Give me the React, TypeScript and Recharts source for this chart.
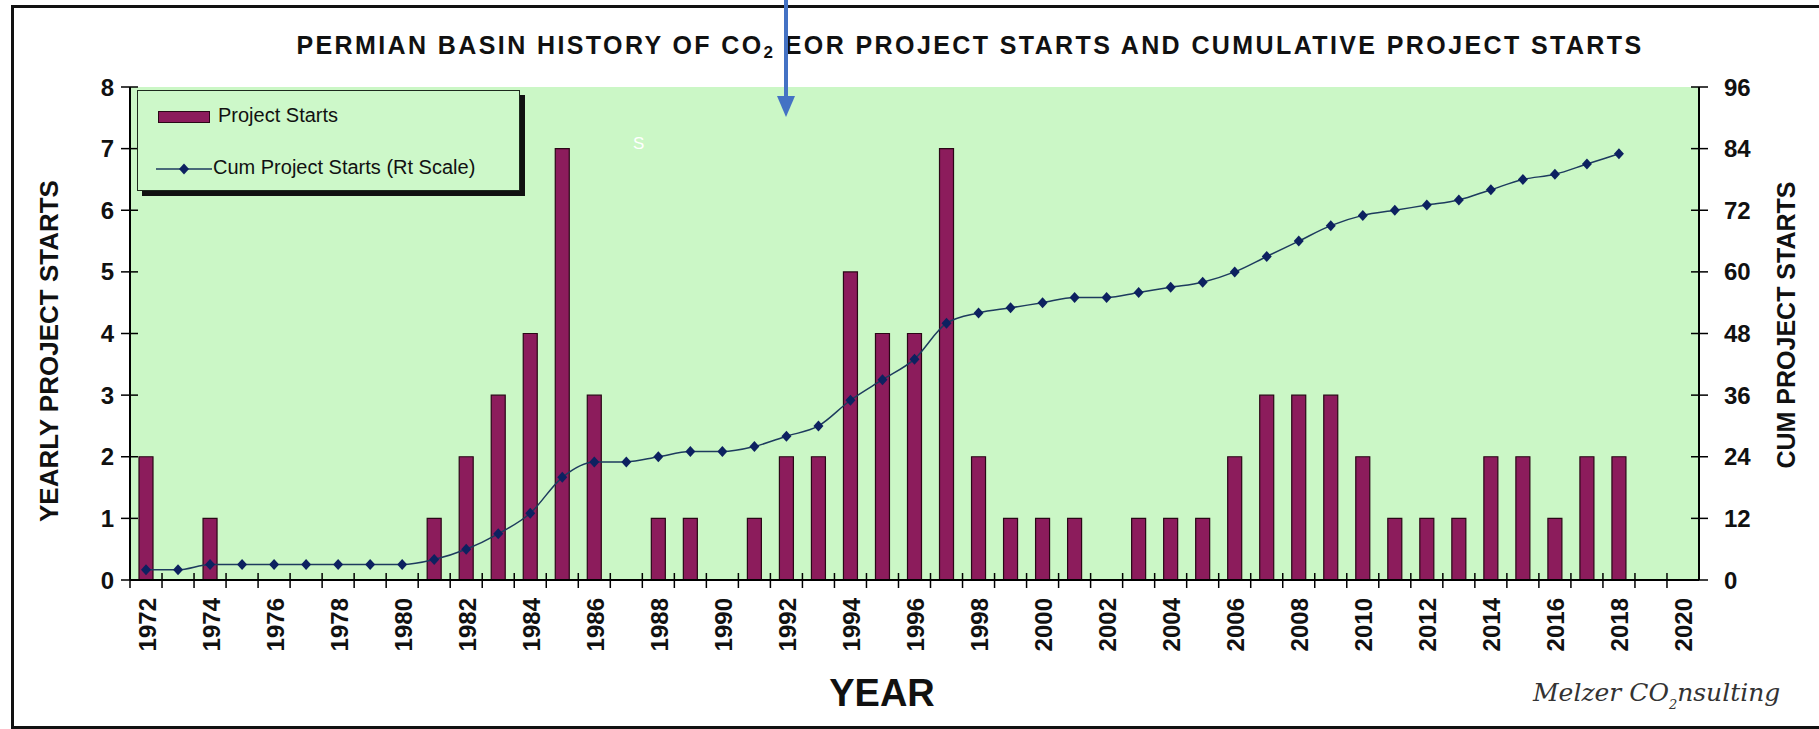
import React from "react";
import { ComposedChart, Bar, Line, XAxis, YAxis, CartesianGrid } from "recharts";

// categories: one per year, 1972..2020
const years = [
  "1972", "1973", "1974", "1975", "1976", "1977", "1978", "1979", "1980",
  "1981", "1982", "1983", "1984", "1985", "1986", "1987", "1988", "1989", "1990",
  "1991", "1992", "1993", "1994", "1995", "1996", "1997", "1998", "1999", "2000",
  "2001", "2002", "2003", "2004", "2005", "2006", "2007", "2008", "2009", "2010",
  "2011", "2012", "2013", "2014", "2015", "2016", "2017", "2018", "2019", "2020",
];

// yearly project starts (left scale)
const projectStarts = [
  2, 0, 1, 0, 0, 0, 0, 0, 0,
  1, 2, 3, 4, 7, 3, 0, 1, 1, 0,
  1, 2, 2, 5, 4, 4, 7, 2, 1, 1,
  1, 0, 1, 1, 1, 2, 3, 3, 3, 2,
  1, 1, 1, 2, 2, 1, 2, 2, 0, 0,
];

// cumulative project starts (right scale)
const cumStarts: (number | null)[] = [
  2, 2, 3, 3, 3, 3, 3, 3, 3,
  4, 6, 9, 13, 20, 23, 23, 24, 25, 25,
  26, 28, 30, 35, 39, 43, 50, 52, 53, 54,
  55, 55, 56, 57, 58, 60, 63, 66, 69, 71,
  72, 73, 74, 76, 78, 79, 81, 83, null, null,
];

const leftTicks = [0, 1, 2, 3, 4, 5, 6, 7, 8];
const rightTicks = [0, 12, 24, 36, 48, 60, 72, 84, 96];

const data = years.map((year, i) => ({
  year,
  starts: projectStarts[i],
  cum: cumStarts[i],
}));

const FONT = "'Liberation Sans', Arial, sans-serif";
const PLOT_BG = "#cbf7c6";
const BAR_FILL = "#8c1c5c";
const LINE_COLOR = "#1d3b5e";
const DOT_COLOR = "#0d2160";

const TICK_SIZE = 8;
const TICK_MARGIN = 6;

const YearTick = (props: any) => {
  const { x, y, payload } = props;
  const half = payload.offset ?? 16;
  const axisY = y - TICK_SIZE - TICK_MARGIN;
  const showLabel = Number(payload.value) % 2 === 0;
  return (
    <g>
      <line x1={x - half} x2={x - half} y1={axisY - 7} y2={axisY + 8} stroke="#000" strokeWidth={1.5} />
      {showLabel && (
        <text
          transform={`translate(${x + 1},${axisY + 18}) rotate(-90)`}
          textAnchor="end"
          dominantBaseline="central"
          fontFamily={FONT}
          fontSize={24}
          fontWeight="bold"
          fill="#111"
        >
          {payload.value}
        </text>
      )}
    </g>
  );
};

const LeftTick = (props: any) => {
  const { x, y, payload } = props;
  const axisX = x + TICK_SIZE + TICK_MARGIN;
  return (
    <g>
      <line x1={axisX - 9} x2={axisX + 8} y1={y} y2={y} stroke="#000" strokeWidth={1.5} />
      <text x={axisX - 16} y={y} textAnchor="end" dominantBaseline="central" fontFamily={FONT} fontSize={24} fontWeight="bold" fill="#111">
        {payload.value}
      </text>
    </g>
  );
};

const RightTick = (props: any) => {
  const { x, y, payload } = props;
  const axisX = x - TICK_SIZE - TICK_MARGIN;
  return (
    <g>
      <line x1={axisX - 8} x2={axisX + 9} y1={y} y2={y} stroke="#000" strokeWidth={1.5} />
      <text x={axisX + 25} y={y} textAnchor="start" dominantBaseline="central" fontFamily={FONT} fontSize={24} fontWeight="bold" fill="#111">
        {payload.value}
      </text>
    </g>
  );
};

const Diamond = (props: any) => {
  const { cx, cy, value } = props;
  if (cx == null || cy == null || value == null) return <g />;
  return <path d={`M${cx},${cy - 5.5}L${cx + 5},${cy}L${cx},${cy + 5.5}L${cx - 5},${cy}Z`} fill={DOT_COLOR} />;
};

export default function App() {
  return (
    <div
      style={{
        position: "absolute",
        left: 0,
        top: 0,
        width: 1819,
        height: 729,
        overflow: "hidden",
        background: "#fff",
        fontFamily: FONT,
      }}
    >
      {/* outer frame */}
      <div
        style={{
          position: "absolute",
          left: 11,
          top: 5,
          width: 1820,
          height: 718,
          border: "3px solid #111",
        }}
      />

      <div style={{ position: "absolute", left: 0, top: 0 }}>
        <ComposedChart
          width={1819}
          height={729}
          data={data}
          margin={{ top: 87, right: 50, bottom: 64, left: 60 }}
          barCategoryGap={0}
        >
          <CartesianGrid yAxisId="left" fill={PLOT_BG} horizontal={false} vertical={false} />
          <XAxis
            dataKey="year"
            interval={0}
            height={85}
            tickLine={false}
            tickSize={TICK_SIZE}
            tickMargin={TICK_MARGIN}
            axisLine={{ stroke: "#000", strokeWidth: 2 }}
            tick={<YearTick />}
          />
          <XAxis
            xAxisId="top"
            dataKey="year"
            orientation="top"
            height={0}
            tick={false}
            tickLine={false}
            axisLine={{ stroke: "#708070", strokeWidth: 1.5 }}
          />
          <YAxis
            yAxisId="left"
            domain={[0, 8]}
            ticks={leftTicks}
            width={70}
            tickLine={false}
            tickSize={TICK_SIZE}
            tickMargin={TICK_MARGIN}
            axisLine={{ stroke: "#000", strokeWidth: 2 }}
            tick={<LeftTick />}
          />
          <YAxis
            yAxisId="right"
            orientation="right"
            domain={[0, 96]}
            ticks={rightTicks}
            width={70}
            tickLine={false}
            tickSize={TICK_SIZE}
            tickMargin={TICK_MARGIN}
            axisLine={{ stroke: "#000", strokeWidth: 2 }}
            tick={<RightTick />}
          />
          <Bar
            yAxisId="left"
            dataKey="starts"
            barSize={14}
            fill={BAR_FILL}
            stroke="#2a0716"
            strokeWidth={1.2}
            isAnimationActive={false}
          />
          <Line
            yAxisId="right"
            dataKey="cum"
            type="monotone"
            stroke={LINE_COLOR}
            strokeWidth={1.5}
            dot={<Diamond />}
            activeDot={false}
            isAnimationActive={false}
          />
        </ComposedChart>
      </div>

      {/* title */}
      <div
        style={{
          position: "absolute",
          left: 270,
          width: 1400,
          top: 31,
          textAlign: "center",
          fontSize: 25,
          fontWeight: "bold",
          letterSpacing: 2.4,
          color: "#111",
          whiteSpace: "nowrap",
        }}
      >
        PERMIAN BASIN HISTORY OF CO<span style={{ fontSize: 17, verticalAlign: -4 }}>2</span> EOR PROJECT STARTS AND CUMULATIVE PROJECT STARTS
      </div>

      {/* annotation arrow */}
      <svg style={{ position: "absolute", left: 770, top: 0 }} width={32} height={120}>
        <line x1={16} x2={16} y1={0} y2={100} stroke="#4472c4" strokeWidth={4} />
        <path d="M7,96 L25,96 L16,117 Z" fill="#4472c4" />
      </svg>
      <div style={{ position: "absolute", left: 633, top: 134, fontSize: 17, color: "#fff" }}>S</div>

      {/* legend */}
      <div
        style={{
          position: "absolute",
          left: 137,
          top: 90,
          width: 381,
          height: 99,
          background: "#cdf8c9",
          border: "1.5px solid #1d2a1d",
          boxShadow: "5px 5px 0 #111",
          fontSize: 20,
          color: "#111",
        }}
      >
        <div
          style={{
            position: "absolute",
            left: 20,
            top: 20,
            width: 50,
            height: 10,
            background: BAR_FILL,
            border: "1px solid #2a0716",
          }}
        />
        <div style={{ position: "absolute", left: 80, top: 13, whiteSpace: "nowrap" }}>Project Starts</div>
        <svg style={{ position: "absolute", left: 18, top: 70 }} width={56} height={16}>
          <line x1={0} x2={56} y1={8} y2={8} stroke={LINE_COLOR} strokeWidth={1.5} />
          <path d="M28,2.5 L33,8 L28,13.5 L23,8 Z" fill={DOT_COLOR} />
        </svg>
        <div style={{ position: "absolute", left: 75, top: 65, whiteSpace: "nowrap" }}>Cum Project Starts (Rt Scale)</div>
      </div>

      {/* axis titles */}
      <div
        style={{
          position: "absolute",
          left: 49,
          top: 351,
          transform: "translate(-50%, -50%) rotate(-90deg)",
          fontSize: 26,
          fontWeight: "bold",
          whiteSpace: "nowrap",
          color: "#111",
        }}
      >
        YEARLY PROJECT STARTS
      </div>
      <div
        style={{
          position: "absolute",
          left: 1786,
          top: 325,
          transform: "translate(-50%, -50%) rotate(-90deg)",
          fontSize: 25,
          fontWeight: "bold",
          whiteSpace: "nowrap",
          color: "#111",
        }}
      >
        CUM PROJECT STARTS
      </div>
      <div
        style={{
          position: "absolute",
          left: 882,
          top: 693,
          transform: "translate(-50%, -50%)",
          fontSize: 38,
          fontWeight: "bold",
          whiteSpace: "nowrap",
          color: "#111",
        }}
      >
        YEAR
      </div>

      {/* signature */}
      <div
        style={{
          position: "absolute",
          left: 1533,
          top: 678,
          fontFamily: "'DejaVu Serif', 'Liberation Serif', serif",
          fontStyle: "italic",
          fontSize: 25,
          color: "#333",
          whiteSpace: "nowrap",
        }}
      >
        Melzer CO<span style={{ fontSize: 13, verticalAlign: -8 }}>2</span>nsulting
      </div>
    </div>
  );
}
